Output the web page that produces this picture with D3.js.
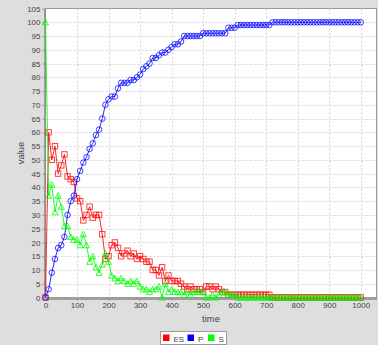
<!DOCTYPE html>
<html>
<head>
<meta charset="utf-8">
<script src="https://cdn.jsdelivr.net/npm/d3@7"></script>
<style>
  html, body { margin: 0; padding: 0; background: #dedede; }
  svg { display: block; font-family: "Liberation Sans", Arial, sans-serif; }
</style>
</head>
<body>
<div id="viz"></div>
<script>
// sampled every 10 time units, 0..1000
const times = d3.range(0, 1001, 10);

const es = [0, 60, 50, 55, 45, 48, 52, 44, 43, 42, 36, 35, 28, 30, 33, 29, 30, 30, 23, 14,
  15, 19, 20, 18, 15, 16, 17, 15, 16, 14, 15, 14, 13, 13, 10, 10, 8, 11, 6, 8,
  6, 6, 6, 5, 4, 3, 4, 3, 3, 3, 2, 4, 4, 3, 4, 3, 2, 2, 1, 1,
  1, 1, 1, 1, 1, 1, 1, 1, 1, 1, 1, 1, 0, 0, 0, 0, 0, 0, 0, 0,
  0, 0, 0, 0, 0, 0, 0, 0, 0, 0, 0, 0, 0, 0, 0, 0, 0, 0, 0, 0, 0];

const p = [0, 3, 9, 14, 18, 19, 22, 30, 35, 37, 43, 46, 49, 51, 54, 56, 59, 61, 65, 70,
  72, 73, 73, 76, 78, 78, 78, 79, 79, 80, 81, 83, 84, 85, 87, 87, 88, 89, 89, 90,
  91, 92, 92, 93, 95, 95, 95, 95, 95, 95, 96, 96, 96, 96, 96, 96, 96, 96, 98, 98,
  98, 99, 99, 99, 99, 99, 99, 99, 99, 99, 99, 99, 100, 100, 100, 100, 100, 100, 100, 100,
  100, 100, 100, 100, 100, 100, 100, 100, 100, 100, 100, 100, 100, 100, 100, 100, 100, 100, 100, 100, 100];

const s = [100, 37, 41, 31, 37, 33, 26, 26, 22, 21, 21, 19, 23, 19, 13, 15, 11, 9, 12, 16,
  13, 8, 7, 6, 7, 6, 5, 6, 5, 6, 4, 3, 3, 2, 3, 3, 4, 0, 5, 2,
  3, 2, 2, 2, 1, 2, 1, 2, 2, 2, 2, 0, 0, 1, 0, 1, 2, 2, 1, 1,
  1, 0, 0, 0, 0, 0, 0, 0, 0, 0, 0, 0, 0, 0, 0, 0, 0, 0, 0, 0,
  0, 0, 0, 0, 0, 0, 0, 0, 0, 0, 0, 0, 0, 0, 0, 0, 0, 0, 0, 0, 0];

const seriesNames = ['ES', 'P', 'S'];
const seriesColors = ['#ff0000', '#0000ff', '#00ff00'];

const xTicks = d3.range(0, 1001, 100);
const yTicks = d3.range(0, 106, 5);

const width = 378, height = 345;
const plot = { left: 45.5, right: 376.5, top: 8.5, bottom: 297.5 };

const svg = d3.select('#viz').append('svg')
  .attr('width', width)
  .attr('height', height);

svg.append('rect')
  .attr('width', width).attr('height', height)
  .attr('fill', '#dedede');

const x = d3.scaleLinear().domain([0, 1050]).range([plot.left, plot.right]);
const y = d3.scaleLinear().domain([0, 105]).range([plot.bottom, plot.top]);

svg.append('rect')
  .attr('x', plot.left).attr('y', plot.top)
  .attr('width', plot.right - plot.left).attr('height', plot.bottom - plot.top)
  .attr('fill', '#ffffff')
  .attr('stroke', '#9a9a9a');

// gridlines
const grid = svg.append('g')
  .attr('stroke', '#d4d4d4')
  .attr('stroke-dasharray', '2,2')
  .attr('stroke-width', 1);
grid.selectAll('.gx').data(xTicks.filter(d => d > 0)).join('line')
  .attr('x1', d => Math.round(x(d)) + 0.5).attr('x2', d => Math.round(x(d)) + 0.5)
  .attr('y1', plot.top).attr('y2', plot.bottom);
grid.selectAll('.gy').data(yTicks.filter(d => d > 0 && d < 105)).join('line')
  .attr('y1', d => Math.round(y(d)) + 0.5).attr('y2', d => Math.round(y(d)) + 0.5)
  .attr('x1', plot.left).attr('x2', plot.right);

// axes
const xAxis = svg.append('g')
  .attr('transform', `translate(0,${plot.bottom + 1})`)
  .call(d3.axisBottom(x).tickValues(xTicks).tickFormat(d3.format('d'))
    .tickSizeInner(2).tickSizeOuter(0).tickPadding(2));
const yAxis = svg.append('g')
  .attr('transform', `translate(${plot.left - 1},0)`)
  .call(d3.axisLeft(y).tickValues(yTicks).tickFormat(d3.format('d'))
    .tickSizeInner(2).tickSizeOuter(0).tickPadding(2));

[xAxis, yAxis].forEach(a => {
  a.select('.domain').attr('stroke', '#8a8a8a').attr('stroke-width', 1.5);
  a.selectAll('.tick line').attr('stroke', '#8a8a8a');
  a.selectAll('.tick text')
    .attr('fill', '#444')
    .style('font-size', '8px')
    .style('font-family', '"Liberation Sans", Arial, sans-serif');
});

svg.append('text')
  .attr('x', (plot.left + plot.right) / 2).attr('y', 322)
  .attr('text-anchor', 'middle')
  .attr('fill', '#444')
  .style('font-size', '9.5px')
  .text('time');

svg.append('text')
  .attr('transform', `translate(24,${(plot.top + plot.bottom) / 2}) rotate(-90)`)
  .attr('text-anchor', 'middle')
  .attr('fill', '#444')
  .style('font-size', '9.5px')
  .text('value');

// series
const data = [es, p, s];

const line = d3.line()
  .x((d, i) => x(times[i]))
  .y(d => y(d));

const layer = svg.append('g');

data.forEach((vals, k) => {
  const color = seriesColors[k];
  const g = layer.append('g');
  g.append('path')
    .datum(vals)
    .attr('fill', 'none')
    .attr('stroke', color)
    .attr('stroke-width', 1)
    .attr('stroke-opacity', 0.85)
    .attr('d', line);

  const pts = g.selectAll('.m').data(vals).join('g')
    .attr('transform', (d, i) => `translate(${x(times[i])},${y(d)})`);

  if (k === 0) {
    pts.append('rect')
      .attr('x', -2.7).attr('y', -2.7).attr('width', 5.4).attr('height', 5.4)
      .attr('fill', 'none').attr('stroke', color).attr('stroke-opacity', 0.75);
  } else if (k === 1) {
    pts.append('circle')
      .attr('r', 2.8)
      .attr('fill', 'none').attr('stroke', color).attr('stroke-opacity', 0.75);
  } else {
    pts.append('path')
      .attr('d', 'M0,-3L3,2.6L-3,2.6Z')
      .attr('fill', 'none').attr('stroke', color).attr('stroke-opacity', 0.8);
  }
});

// legend
const legend = svg.append('g');
legend.append('rect')
  .attr('x', 160.5).attr('y', 331.5)
  .attr('width', 66).attr('height', 13)
  .attr('fill', '#ffffff')
  .attr('stroke', '#9a9a9a');

const itemX = [163, 187.5, 208];
seriesNames.forEach((name, k) => {
  legend.append('rect')
    .attr('x', itemX[k]).attr('y', 334.5)
    .attr('width', 6.5).attr('height', 6.5)
    .attr('fill', seriesColors[k]);
  legend.append('text')
    .attr('x', itemX[k] + 10.5).attr('y', 341.5)
    .attr('fill', '#444')
    .style('font-size', '8px')
    .text(name);
});
</script>
</body>
</html>
